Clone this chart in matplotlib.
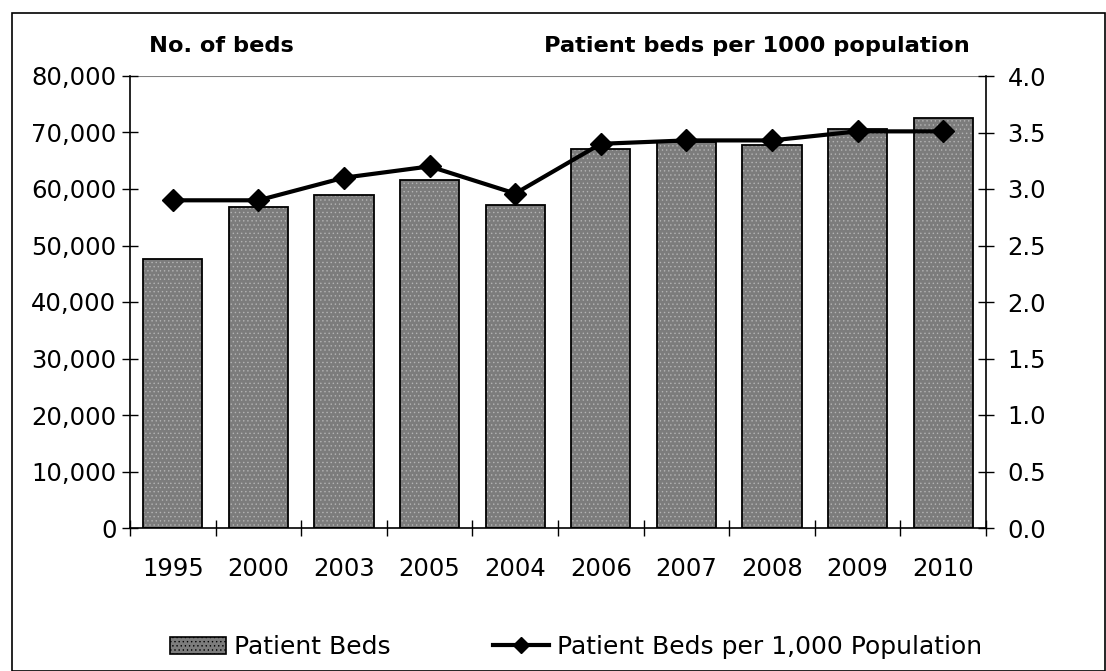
import numpy as np
import matplotlib.pyplot as plt
from matplotlib.patches import Patch, Rectangle
from matplotlib.lines import Line2D
from matplotlib.ticker import FuncFormatter

years = ["1995", "2000", "2003", "2005", "2004", "2006", "2007", "2008", "2009", "2010"]
beds = [47600, 56800, 59000, 61600, 57200, 67100, 68400, 67800, 70700, 72600]
beds_per_1000 = [2.9, 2.9, 3.1, 3.2, 2.96, 3.4, 3.43, 3.43, 3.51, 3.51]

plt.rcParams["font.family"] = "DejaVu Sans"
plt.rcParams["hatch.color"] = "#b4b4b4"
plt.rcParams["hatch.linewidth"] = 0.5

W, H = 1106, 671
fig = plt.figure(figsize=(W / 100, H / 100), dpi=100)
# рамка вокруг всей диаграммы
fig.patches.append(Rectangle((12 / W, 0), 1 - 13 / W, 1 - 13 / H,
                             transform=fig.transFigure, fill=False,
                             edgecolor="black", linewidth=1.2))

ax = fig.add_axes([130 / W, 1 - 528 / H, 856 / W, 452 / H])
x = np.arange(len(years))
bar_fc = "#7c7c7c"

# заливка с точечной штриховкой, потом чёрный контур поверх
ax.bar(x, beds, width=0.69, color=bar_fc, hatch="....", edgecolor="#b4b4b4",
       linewidth=0, zorder=2)
ax.bar(x, beds, width=0.69, fill=False, edgecolor="black", linewidth=1.3, zorder=3)

ax.set_xlim(-0.5, len(years) - 0.5)
ax.set_ylim(0, 80000)
ax.set_yticks(range(0, 80001, 10000))
ax.yaxis.set_major_formatter(FuncFormatter(lambda v, p: f"{int(v):,}"))
# засечки между категориями, подписи по центру
ax.set_xticks(np.arange(len(years) + 1) - 0.5, minor=False)
ax.set_xticklabels([])
ax.set_xticks(x, minor=True)
ax.set_xticklabels(years, minor=True)
ax.tick_params(axis="x", which="major", direction="inout", length=12, width=1)
ax.tick_params(axis="x", which="minor", length=0, pad=21, labelsize=17.5)
ax.tick_params(axis="y", direction="inout", length=11.5, width=1, labelsize=17.5, pad=4)

for s in ["top", "right"]:
    ax.spines[s].set_visible(False)
ax.spines["left"].set_linewidth(1.2)
ax.spines["bottom"].set_linewidth(1.2)
ax.axhline(80000, color="#808080", linewidth=1.5, zorder=1)

ax2 = ax.twinx()
ax2.plot(x, beds_per_1000, color="black", linewidth=3, marker="D", markersize=11, zorder=5)
ax2.set_ylim(0, 4.0)
ax2.set_yticks(np.arange(0, 4.01, 0.5))
ax2.yaxis.set_major_formatter(FuncFormatter(lambda v, p: f"{v:.1f}"))
ax2.tick_params(axis="y", direction="inout", length=11, width=1, labelsize=17.5, pad=10)
for s in ["top", "left", "bottom"]:
    ax2.spines[s].set_visible(False)
ax2.spines["right"].set_linewidth(1.2)

fig.text(149 / W, 1 - 46 / H, "No. of beds", fontsize=16.2, fontweight="bold", va="center")
fig.text(970 / W, 1 - 46 / H, "Patient beds per 1000 population", fontsize=16.2,
         fontweight="bold", va="center", ha="right")

handles = [
    Patch(facecolor=bar_fc, hatch="....", edgecolor="black", linewidth=1.2),
    Line2D([0], [0], color="black", linewidth=3, marker="D", markersize=8.5),
]
fig.legend(handles, ["Patient Beds", "Patient Beds per 1,000 Population"],
           loc="center", bbox_to_anchor=(576 / W, 1 - 647 / H), ncol=2,
           frameon=False, fontsize=18, handlelength=2.25, handletextpad=0.3,
           columnspacing=4.1)

fig.savefig("out.png", dpi=100)
